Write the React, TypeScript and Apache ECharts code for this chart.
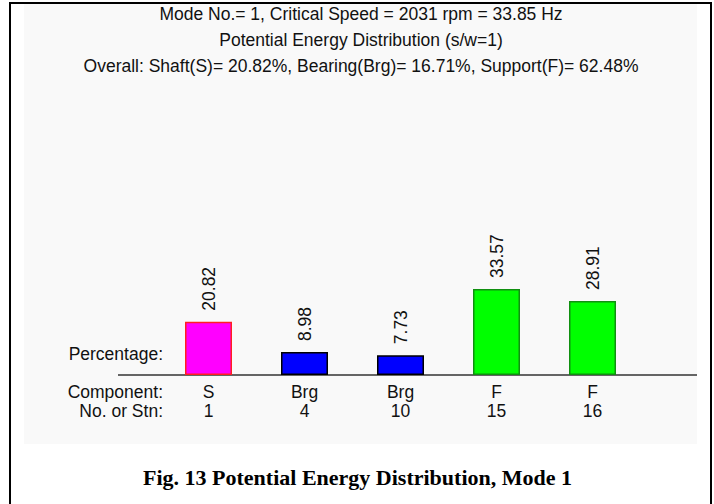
import React, { useEffect, useRef } from "react";
import * as echarts from "echarts";

const components = ["S", "Brg", "Brg", "F", "F"];
const stations = ["1", "4", "10", "15", "16"];
const percentages = [20.82, 8.98, 7.73, 33.57, 28.91];
const fillColors = ["#ff00ff", "#0000ff", "#0000ff", "#00ff00", "#00ff00"];
const borderColors = ["#ff2020", "#000000", "#000000", "#109010", "#109010"];
const titleLines = [
  "Mode No.= 1, Critical Speed = 2031 rpm = 33.85 Hz",
  "Potential Energy Distribution (s/w=1)",
  "Overall: Shaft(S)= 20.82%, Bearing(Brg)= 16.71%, Support(F)= 62.48%",
];
const caption = "Fig. 13 Potential Energy Distribution, Mode 1";

const FONT = "'Liberation Sans', Arial, sans-serif";
const FS = 17.5;

export default function App() {
  const ref = useRef<HTMLDivElement>(null);
  useEffect(() => {
    if (!ref.current) return;
    const chart = echarts.init(ref.current, null, { renderer: "svg" });
    const titleTops = [5, 31, 57];
    chart.setOption({
      animation: false,
      backgroundColor: "#ffffff",
      title: titleLines.map((t, i) => ({
        text: t,
        left: 361,
        textAlign: "center",
        top: titleTops[i],
        padding: 0,
        textStyle: { fontFamily: FONT, fontSize: FS, fontWeight: "normal", color: "#111" },
      })),
      grid: { left: 160.5, right: 73.5, top: 247, bottom: 129 },
      xAxis: {
        type: "category",
        data: components.map((c, i) => c + "\n" + stations[i]),
        axisLine: { show: false },
        axisTick: { show: false },
        axisLabel: {
          margin: 7,
          fontFamily: FONT,
          fontSize: FS,
          lineHeight: 19,
          color: "#111",
        },
      },
      yAxis: { type: "value", min: 0, max: 50, show: false },
      series: [
        {
          type: "bar",
          barWidth: 47,
          data: percentages.map((v, i) => ({
            value: v,
            itemStyle: { color: fillColors[i], borderColor: borderColors[i], borderWidth: 1.5 },
          })),
          label: {
            show: true,
            position: "top",
            rotate: 90,
            align: "left",
            verticalAlign: "middle",
            distance: 11,
            fontFamily: FONT,
            fontSize: FS,
            color: "#111",
            formatter: (p: any) => p.value.toFixed(2),
          },
        },
      ],
      graphic: [
        { type: "rect", shape: { x: 24, y: 4, width: 673, height: 440 }, style: { fill: "#f9f9f9" }, z: -10 },
        { type: "rect", shape: { x: 9, y: 2, width: 703, height: 2 }, style: { fill: "#000" } },
        { type: "rect", shape: { x: 9, y: 2, width: 2, height: 502 }, style: { fill: "#000" } },
        { type: "rect", shape: { x: 710, y: 2, width: 2, height: 502 }, style: { fill: "#000" } },
        { type: "line", shape: { x1: 118, y1: 375, x2: 697, y2: 375 }, style: { stroke: "#333", lineWidth: 1.5 } },
        {
          type: "text",
          x: 163,
          y: 354,
          style: { text: "Percentage:", align: "right", verticalAlign: "middle", font: `${FS}px ${FONT}`, fill: "#111" },
        },
        {
          type: "text",
          x: 163,
          y: 392,
          style: { text: "Component:", align: "right", verticalAlign: "middle", font: `${FS}px ${FONT}`, fill: "#111" },
        },
        {
          type: "text",
          x: 163,
          y: 411,
          style: { text: "No. or Stn:", align: "right", verticalAlign: "middle", font: `${FS}px ${FONT}`, fill: "#111" },
        },
        {
          type: "text",
          x: 357.5,
          y: 477,
          style: {
            text: caption,
            align: "center",
            verticalAlign: "middle",
            font: `bold 22px 'Liberation Serif', 'Times New Roman', serif`,
            fill: "#000",
          },
        },
      ],
    });
    return () => chart.dispose();
  }, []);
  return (
    <div
      ref={ref}
      style={{ position: "fixed", left: 0, top: 0, width: 714, height: 504 }}
    />
  );
}
